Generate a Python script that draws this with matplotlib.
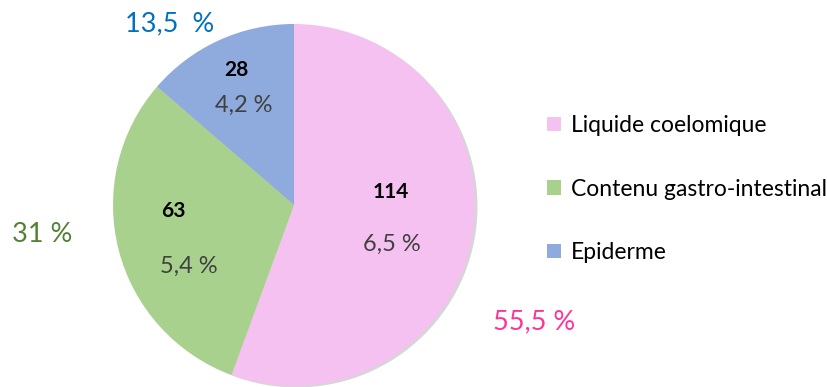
import matplotlib
matplotlib.use('Agg')
import matplotlib.pyplot as plt
from matplotlib.patches import Patch, Circle

plt.rcParams['font.family'] = ['Lato', 'DejaVu Sans']

# counts per sample type
categories = ['Liquide coelomique', 'Contenu gastro-intestinal', 'Epiderme']
counts = [114, 63, 28]
share_labels = ['55,5 %', '31 %', '13,5  %']
inner_labels = ['6,5 %', '5,4 %', '4,2 %']
colors = ['#F5C1F1', '#A9D18E', '#8FAADC']
share_colors = ['#FF3399', '#548235', '#0070C0']

W, H = 827, 387
fig = plt.figure(figsize=(W / 100, H / 100), dpi=100)

# pie centre and radius in pixels
cx, cy, r = 294, 205, 181
ax = fig.add_axes([(cx - r) / W, (H - cy - r) / H, 2 * r / W, 2 * r / H])

def px(x, y):
    return (x - cx) / r, (cy - y) / r

# soft shadow on the right
ax.add_patch(Circle((0.014, -0.008), 1.0, color='#000000', alpha=0.16, zorder=0,
                    lw=0, clip_on=False))

wedges, _ = ax.pie(counts, colors=colors, startangle=90, counterclock=False,
                   radius=1, wedgeprops=dict(linewidth=0))
for w in wedges:
    w.set_clip_on(False)
ax.set_xlim(-1, 1)
ax.set_ylim(-1, 1)
ax.set_aspect('equal')
ax.axis('off')

# counts and percentages inside the slices
count_pos = [(391, 192), (173, 211), (236, 70)]
pct_pos = [(392, 244), (189, 266), (244, 105)]
for n, lab, p1, p2 in zip(counts, inner_labels, count_pos, pct_pos):
    ax.text(*px(*p1), str(n), ha='center', va='center', fontsize=15,
            fontweight='bold', color='black')
    ax.text(*px(*p2), lab, ha='center', va='center', fontsize=17, color='#404040')

# shares outside the pie
share_pos = [(534, 322), (42, 235), (170, 24)]
for lab, p, c in zip(share_labels, share_pos, share_colors):
    ax.text(*px(*p), lab, ha='center', va='center', fontsize=19.5, color=c,
            clip_on=False)

handles = [Patch(facecolor=c, edgecolor='none') for c in colors]
fig.legend(handles, categories, loc='center left',
           bbox_to_anchor=(538 / W, 1 - 189 / H), frameon=False, fontsize=16.5,
           handlelength=0.6, handleheight=0.6, handletextpad=0.45,
           labelspacing=1.85, borderaxespad=0)

fig.savefig('out.png', dpi=100)
